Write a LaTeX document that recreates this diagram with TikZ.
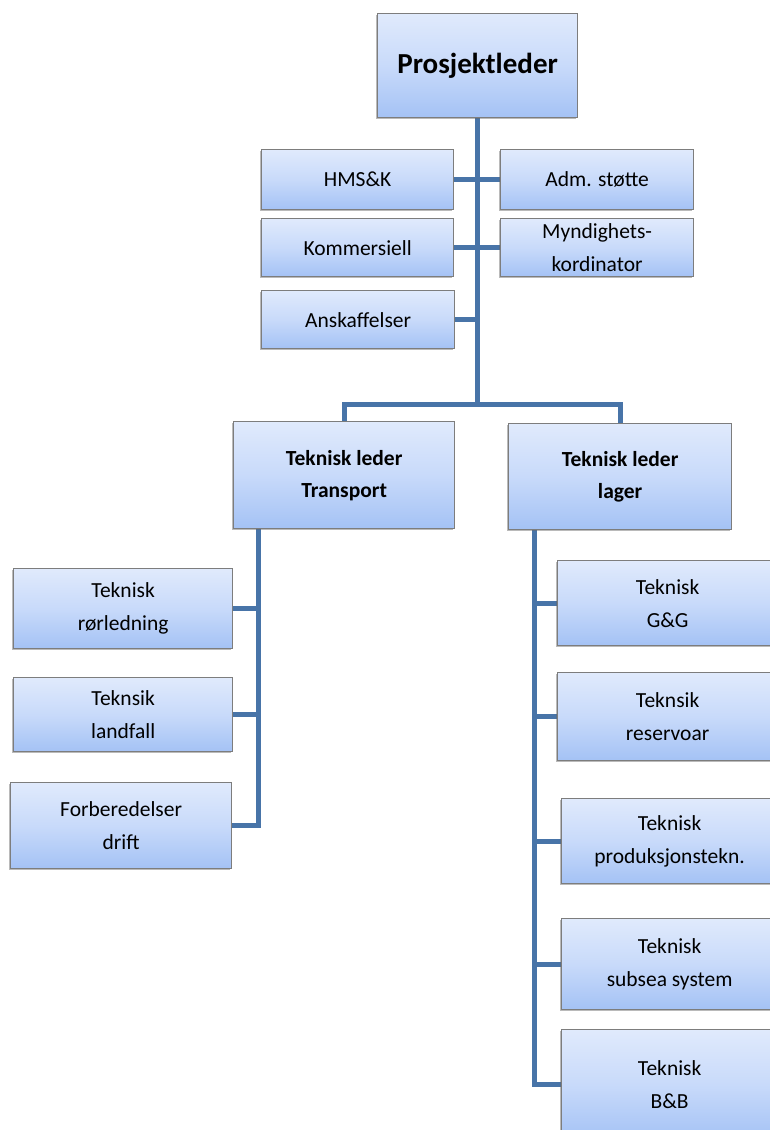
\documentclass[tikz,border=0pt]{standalone}
\usepackage{fontspec}
\setmainfont{Carlito}
\usetikzlibrary{shadows,calc,backgrounds}
\definecolor{boxtop}{RGB}{224,234,252}
\definecolor{boxmid}{RGB}{200,218,250}
\definecolor{boxbot}{RGB}{164,194,245}
\definecolor{boxedge}{RGB}{125,125,125}
\definecolor{conncol}{RGB}{72,116,168}
\tikzset{
  orgbox/.style={draw=boxedge, line width=1.3pt, top color=boxtop, bottom color=boxbot, middle color=boxmid,
    align=center, inner sep=0pt, anchor=north west, text=black,
    drop shadow={shadow xshift=-1.5pt, shadow yshift=-1.8pt, opacity=0.45, fill=black!60},
    font=\fontsize{21.5}{33}\selectfont},
  boldbox/.style={orgbox, font=\fontsize{21.5}{32}\selectfont\bfseries},
  topbox/.style={orgbox, font=\fontsize{29}{34}\selectfont\bfseries},
  conn/.style={draw=conncol, line width=5pt, line cap=rect, line join=miter}
}
\begin{document}
\begin{tikzpicture}[x=1pt,y=-1pt]
\useasboundingbox (0,0) rectangle (770,1130);
\clip (0,0) rectangle (770,1130);

% boxes
\node[topbox, minimum width=200pt, minimum height=104pt] (pl) at (377,13) {Prosjektleder};
\node[orgbox, minimum width=192pt, minimum height=60pt] (hms) at (261,149) {HMS\&K};
\node[orgbox, minimum width=193pt, minimum height=60pt] (adm) at (500,149) {Adm. støtte};
\node[orgbox, minimum width=192pt, minimum height=58pt] (kom) at (261,218) {Kommersiell};
\node[orgbox, minimum width=193pt, minimum height=58pt] (myn) at (500,218) {Myndighets-\\kordinator};
\node[orgbox, minimum width=193pt, minimum height=58pt] (ans) at (261,290) {Anskaffelser};

\node[boldbox, minimum width=221pt, minimum height=107pt] (tt) at (233,421) {Teknisk leder\\Transport};
\node[boldbox, minimum width=223pt, minimum height=106pt] (tl) at (508,423) {Teknisk leder\\lager};

\node[orgbox, minimum width=219pt, minimum height=80pt] (ror) at (13,568) {Teknisk\\rørledning};
\node[orgbox, minimum width=219pt, minimum height=74pt] (land) at (13,677) {Teknsik\\landfall};
\node[orgbox, minimum width=221pt, minimum height=86pt] (forb) at (10,782) {Forberedelser\\drift};

\node[orgbox, minimum width=220pt, minimum height=85pt] (gg) at (557,560) {Teknisk\\G\&G};
\node[orgbox, minimum width=220pt, minimum height=88pt] (res) at (557,672) {Teknsik\\reservoar};
\node[orgbox, minimum width=216pt, minimum height=85pt] (prod) at (561,798) {Teknisk\\produksjonstekn.};
\node[orgbox, minimum width=216pt, minimum height=91pt] (sub) at (561,918) {Teknisk\\subsea system};
\node[orgbox, minimum width=216pt, minimum height=110pt] (bb) at (561,1029) {Teknisk\\B\&B};

% trunk junction coordinates
\coordinate (t1) at ($(pl.south)+(0,286)$);
\coordinate (lt) at ($(tt.south west)+(25,0)$);
\coordinate (rt) at ($(tl.south west)+(26,0)$);

% connectors (drawn behind boxes)
\begin{scope}[on background layer]
\draw[conn] (pl.south) -- (t1);
\draw[conn] (hms.east) -- (hms.east -| t1);
\draw[conn] (adm.west) -- (adm.west -| t1);
\draw[conn] (kom.east) -- (kom.east -| t1);
\draw[conn] (myn.west) -- (myn.west -| t1);
\draw[conn] (ans.east) -- (ans.east -| t1);
\draw[conn] (t1) -| (tt.north);
\draw[conn] (t1) -| (tl.north);
\draw[conn] (lt) |- (forb.east);
\draw[conn] (ror.east) -- (ror.east -| lt);
\draw[conn] (land.east) -- (land.east -| lt);
\draw[conn] (rt) |- (bb.west);
\draw[conn] (gg.west) -- (gg.west -| rt);
\draw[conn] (res.west) -- (res.west -| rt);
\draw[conn] (prod.west) -- (prod.west -| rt);
\draw[conn] (sub.west) -- (sub.west -| rt);
\end{scope}
\end{tikzpicture}
\end{document}
